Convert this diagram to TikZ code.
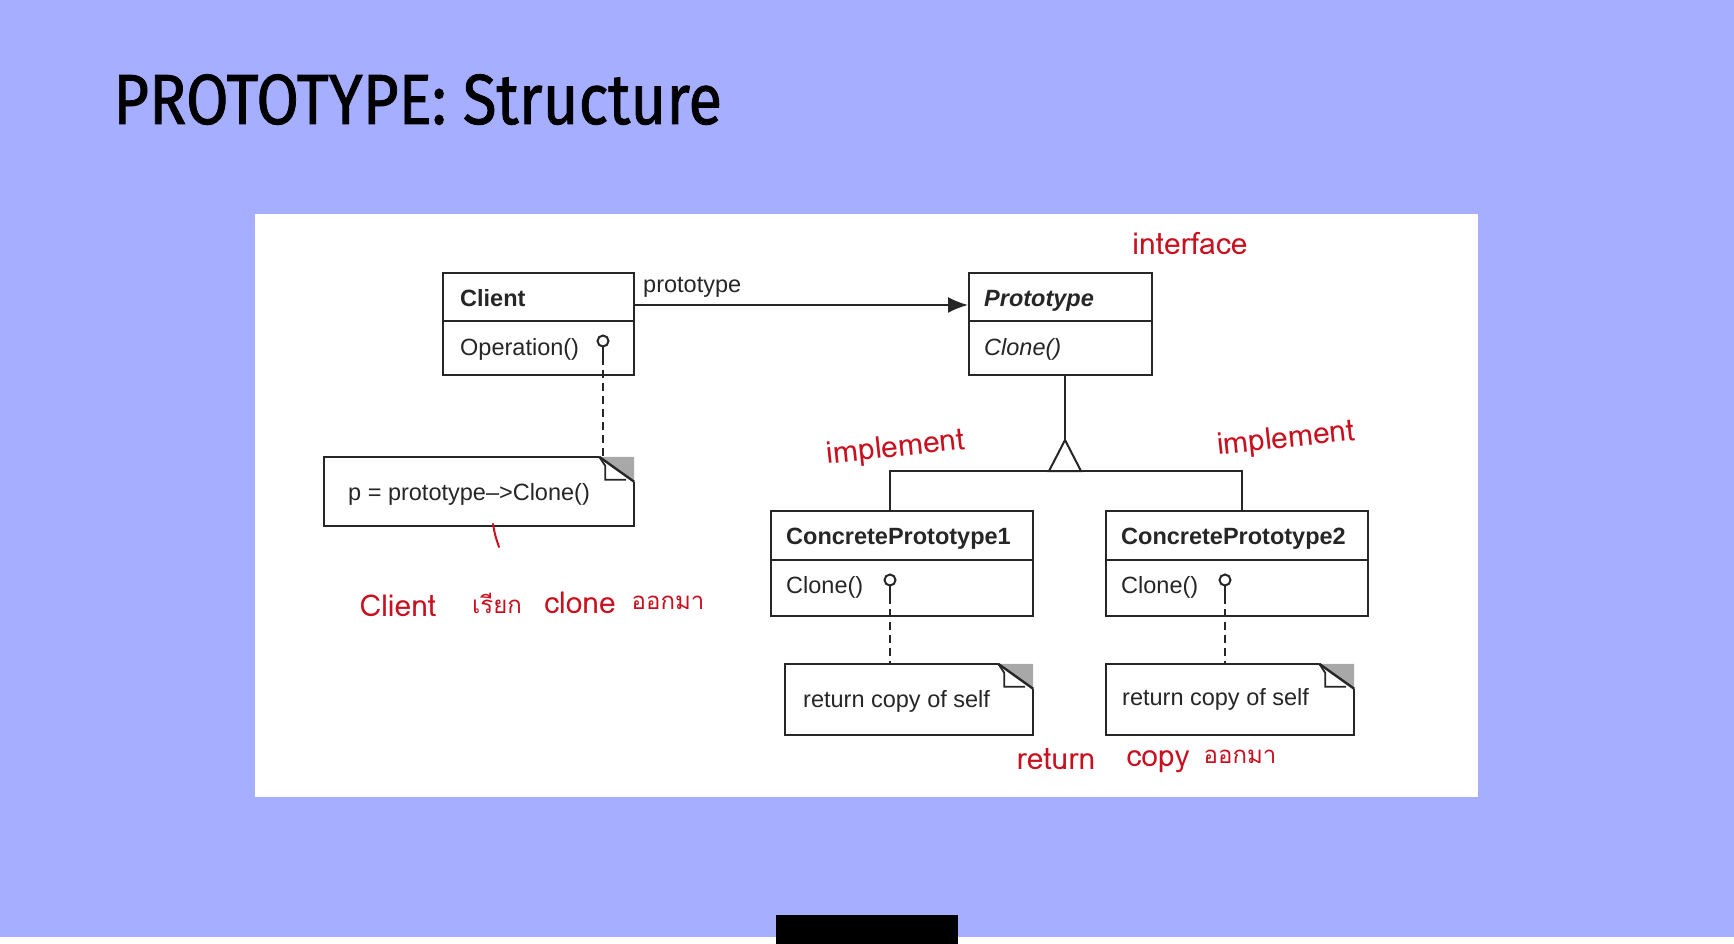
\documentclass[tikz,border=0pt]{standalone}
\usepackage{fontspec}
\setmainfont{Liberation Sans}
\newfontfamily\titlefont[FakeBold=1.2]{Fira Sans}
\newfontfamily\handfont[Script=Thai]{Loma}
\usetikzlibrary{calc,arrows.meta}

\definecolor{slidebg}{RGB}{166,174,255}
\definecolor{inkred}{RGB}{200,16,30}
\definecolor{eargray}{RGB}{168,168,168}

\tikzset{
  uml/.style={line width=2pt, draw=black!85},
  classbox/.style={uml, rectangle, fill=white, inner sep=0pt},
  notebox/.style={rectangle, inner sep=0pt},
  label/.style={anchor=base west, inner sep=0pt, font=\fontsize{23.5}{26}\selectfont, text=black!85},
  clsname/.style={label, font=\fontsize{23.5}{26}\selectfont\bfseries},
  lolli/.style={uml, fill=white},
  tether/.style={uml, dash pattern=on 8pt off 5pt},
  hand/.style={inner sep=0pt, text=inkred, font=\fontsize{30}{32}\handfont},
  handthai/.style={hand, font=\fontsize{24}{26}\handfont},
}

% folded corner of a note
\newcommand\dogear[1]{%
  \fill[eargray] ($(#1.north east)+(-35,0)$) -- (#1.north east) -- ($(#1.north east)+(0,25)$) -- cycle;
  \draw[uml, fill=white, line width=1.8pt, line join=miter]
    ($(#1.north east)+(-35,0)$) -- ($(#1.north east)+(-29,9)$) -- ($(#1.north east)+(-29,23)$)
    -- ($(#1.north east)+(-8,23)$);
  \draw[uml, line width=2.4pt] ($(#1.north east)+(-35,0)$) -- ($(#1.north east)+(0,25)$);
}

\begin{document}
\begin{tikzpicture}[x=1pt,y=-1pt]
\useasboundingbox (0,0) rectangle (1734,944);
\fill[slidebg] (0,0) rectangle (1734,944);
\fill[white] (0,937) rectangle (1734,944);
\fill[black] (776,915) rectangle (958,944);

\node[anchor=base west, inner sep=0pt] (title) at (113,124)
  {\scalebox{0.87}[1]{\titlefont\fontsize{71}{75}\selectfont PROTOTYPE: Structure}};

% diagram panel
\fill[white] (255,214) rectangle (1478,797);

% classes
\node[classbox, minimum width=191pt, minimum height=102pt] (client) at (538.5,324) {};
\draw[uml] (client.west |- 0,321) -- (client.east |- 0,321);
\node[clsname] (clientname) at (460,306) {Client};
\node[label] (clientop) at (460,355) {Operation()};

\node[classbox, minimum width=183pt, minimum height=102pt] (proto) at (1060.5,324) {};
\draw[uml] (proto.west |- 0,321) -- (proto.east |- 0,321);
\node[label, font=\fontsize{23.5}{26}\selectfont\bfseries\itshape] (protoname) at (984,306) {Prototype};
\node[label, font=\fontsize{23.5}{26}\selectfont\itshape] (protoop) at (984,355) {Clone()};

\node[classbox, minimum width=262pt, minimum height=105pt] (cp1) at (902,563.5) {};
\draw[uml] (cp1.west |- 0,560) -- (cp1.east |- 0,560);
\node[clsname] (cp1name) at (786,544) {ConcretePrototype1};
\node[label] (cp1op) at (786,593) {Clone()};

\node[classbox, minimum width=262pt, minimum height=105pt] (cp2) at (1237,563.5) {};
\draw[uml] (cp2.west |- 0,560) -- (cp2.east |- 0,560);
\node[clsname] (cp2name) at (1121,544) {ConcretePrototype2};
\node[label] (cp2op) at (1121,593) {Clone()};

% association
\coordinate (assocy) at (0,305);
\draw[uml, -{Latex[length=20pt,width=16pt]}] (client.east |- assocy) -- (proto.west |- assocy);
\node[label] (assoclabel) at (643,292) {prototype};

% inheritance
\coordinate (apex) at (1065,440);
\draw[uml] (proto.south -| apex) -- (apex);
\draw[uml, fill=white, line join=miter] (apex) -- (1049,471) -- (1081,471) -- cycle;
\draw[uml] (cp1.north -| 890,0) -- (890,471) -- (1242,471) -- (cp2.north -| 1242,0);

% notes
\node[notebox, minimum width=310pt, minimum height=69pt] (cnote) at (479,491.5) {};
\node[notebox, minimum width=248pt, minimum height=71pt] (note1) at (909,699.5) {};
\node[notebox, minimum width=248pt, minimum height=71pt] (note2) at (1230,699.5) {};
\foreach \n in {cnote,note1,note2}{
  \draw[uml, fill=white] ($(\n.north east)+(-35,0)$) -- (\n.north west) -- (\n.south west)
    -- (\n.south east) -- ($(\n.north east)+(0,25)$);
  \dogear{\n}
}
\node[label] (cnotetext) at (348,500) {p = prototype–>Clone()};
\node[label] (note1text) at (803,707) {return copy of self};
\node[label] (note2text) at (1122,705) {return copy of self};

% lollipops and tethers
\coordinate (l0) at (603,341);
\coordinate (l1) at (890,580);
\coordinate (l2) at (1225,580);
\foreach \l/\n in {l0/cnote,l1/note1,l2/note2}{
  \draw[uml] ($(\l)+(0,5.5)$) -- ($(\l)+(0,16)$);
  \draw[tether] ($(\l)+(0,16)$) -- (\n.north -| \l);
  \draw[lolli] (\l) circle (5.5pt);
}

% annotations
\node[hand] (ann1) at (1190,243) {interface};
\node[hand, rotate=6] (ann2) at (896,449) {implement};
\node[hand, rotate=6] (ann3) at (1286,440) {implement};
\draw[inkred, line width=2pt, line cap=round] (493,524) .. controls (495,535) .. (499,547);
\node[hand] (w1) at (398,606) {Client};
\node[handthai] (w2) at (497,603) {เรียก};
\node[hand] (w3) at (580,603) {clone};
\node[handthai] (w4) at (668,603) {ออกมา};
\node[hand] (w5) at (1056,759) {return};
\node[hand] (w6) at (1158,762) {copy};
\node[handthai] (w7) at (1240,757) {ออกมา};
\end{tikzpicture}
\end{document}
